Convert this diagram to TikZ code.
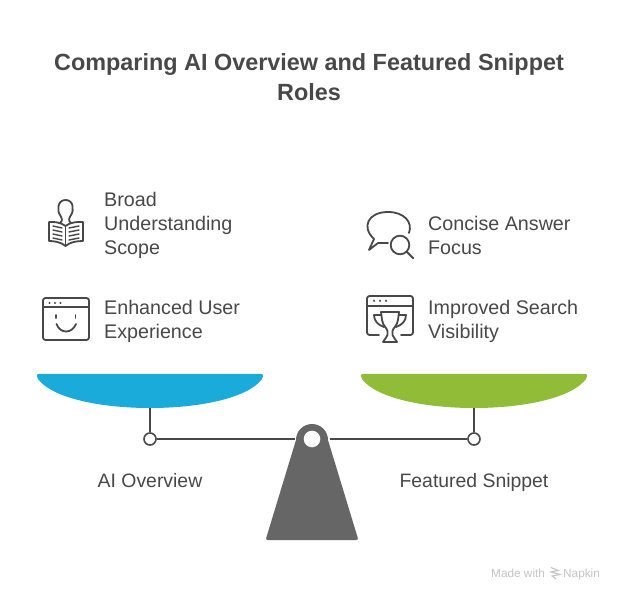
\documentclass[tikz,border=0pt]{standalone}
\usepackage{fontspec}
\setmainfont{Liberation Sans}
\definecolor{inkgrey}{HTML}{484848}
\definecolor{basegrey}{HTML}{666666}
\definecolor{panblue}{HTML}{1AABDA}
\definecolor{pangreen}{HTML}{90BC37}
\definecolor{markgrey}{HTML}{C4C4C4}
\tikzset{
  label/.style={anchor=base west,align=left,inner sep=0pt,text=inkgrey,font=\fontsize{19.7}{24}\selectfont},
  caption/.style={anchor=base,inner sep=0pt,text=inkgrey,font=\fontsize{19.4}{24}\selectfont},
  icon/.style={draw=inkgrey,line width=1.8pt,line cap=round,line join=round},
  beam/.style={draw=inkgrey,line width=2pt},
  hinge/.style={circle,draw=inkgrey,line width=1.6pt,fill=white,minimum size=12pt,inner sep=0pt},
  credit/.style={anchor=base west,inner sep=0pt,text=markgrey,font=\fontsize{11.8}{13}\selectfont}
}
\begin{document}
\begin{tikzpicture}[x=1pt,y=-1pt]
  \useasboundingbox[fill=white] (0,0) rectangle (624,601);
  \node[align=center,inner sep=0pt,text=inkgrey,font=\fontsize{23.4}{30}\selectfont\bfseries] (title) at (309,77) {Comparing AI Overview and Featured Snippet\\Roles};
  % pans
  \fill[panblue] (39,374) -- (261,374) .. controls (264,374) and (263.5,377) .. (262,379) .. controls (248,398) and (200,408) .. (150,408) .. controls (100,408) and (52,398) .. (38,379) .. controls (36.5,377) and (36,374) .. (39,374) -- cycle;
  \fill[pangreen] (363,374) -- (585,374) .. controls (588,374) and (587.5,377) .. (586,379) .. controls (572,398) and (524,408) .. (474,408) .. controls (424,408) and (376,398) .. (362,379) .. controls (360.5,377) and (360,374) .. (363,374) -- cycle;
  \coordinate (panL) at (150,408);
  \coordinate (panR) at (474,408);
  \coordinate (beamL) at (295,439);
  \coordinate (beamR) at (330,439);
  \node[hinge] (hingeL) at (150,439) {};
  \node[hinge] (hingeR) at (474,439) {};
  \draw[beam] (panL) -- (hingeL);
  \draw[beam] (panR) -- (hingeR);
  \draw[beam] (hingeL) -- (beamL);
  \draw[beam] (hingeR) -- (beamR);
  % base
  \fill[basegrey] (296,440) arc (180:360:16) -- (357.5,537) .. controls (358.5,539) and (358,540) .. (356,540) -- (268,540) .. controls (266,540) and (265.5,539) .. (266.5,537) -- cycle;
  \fill[white] (312,439) circle (8.3);
  % texts
  \node[label] (broad) at (104,255) {Broad\\Understanding\\Scope};
  \node[label] (enhanced) at (104,339) {Enhanced User\\Experience};
  \node[label] (concise) at (428,255) {Concise Answer\\Focus};
  \node[label] (improved) at (428,339) {Improved Search\\Visibility};
  \node[caption] (overview) at (150,487) {AI Overview};
  \node[caption] (featured) at (474,487) {Featured Snippet};
  % book
  \draw[icon] (60,223) .. controls (63,221) and (62,218) .. (60,215) .. controls (57,211) and (57,200) .. (65.7,200) .. controls (74,200) and (74,211) .. (71,215) .. controls (69,218) and (68,221) .. (71,223);
  \draw[icon] (65.5,226) .. controls (61,222.5) and (54,221.5) .. (49,222) -- (49,241) .. controls (54,241) and (61,242) .. (65.5,246) .. controls (70,242) and (77,241) .. (83,241) -- (83,222) .. controls (77,221.5) and (70,222.5) .. (65.5,226) -- cycle;
  \draw[icon,line width=1.4pt] (65.5,226) -- (65.5,246);
  \foreach \y in {226,230,234,238} {
    \draw[icon,line width=1.4pt] (53,\y) -- (62,\y+2);
    \draw[icon,line width=1.4pt] (79,\y) -- (69,\y+2);
  }
  % smiling window
  \draw[icon,rounded corners=2.5pt] (43,298) rectangle (89,340);
  \draw[icon] (43,307) -- (89,307);
  \foreach \x in {49.5,55,60.5} \fill[inkgrey] (\x,303) circle (1.2);
  \draw[icon] (56,315) -- (56,318);
  \draw[icon] (75.5,315) -- (75.5,318);
  \draw[icon] (56.5,324) .. controls (60,334) and (72,334) .. (76,324);
  % bubble and lens
  \draw[icon] (388,243) -- (378,243) -- (369,250) -- (374,239) .. controls (361,227) and (368,212) .. (388,212) .. controls (404,212) and (413,222) .. (409,233);
  \draw[icon] (400,245) circle (9.3);
  \draw[icon] (406.7,251.7) -- (413.3,258.3);
  % trophy window
  \draw[icon,rounded corners=2.5pt] (379,335) -- (367,335) -- (367,296) -- (413,296) -- (413,335) -- (401,335);
  \draw[icon] (367,306) -- (413,306);
  \foreach \x in {374,380,386} \fill[inkgrey] (\x,300.8) circle (1.2);
  \draw[icon] (381,312) -- (399,312) -- (398,320) .. controls (397,326) and (393,328) .. (392.5,331) -- (392.5,335) .. controls (393,338) and (396,339) .. (397,342) -- (383,342) .. controls (384,339) and (387,338) .. (387.5,335) -- (387.5,331) .. controls (387,328) and (383,326) .. (382,320) -- cycle;
  \draw[icon] (381,315) -- (374,315) .. controls (374,321) and (378,325) .. (384,327);
  \draw[icon] (399,315) -- (406,315) .. controls (406,321) and (402,325) .. (396,327);
  % watermark
  \node[credit] (made) at (491,577) {Made with};
  \node[credit] (napkin) at (563,577) {Napkin};
  \draw[draw=markgrey,line width=1.1pt] (551,567.5) -- (558,570.5) -- (551,572) -- (560,574.5) -- (552,576) -- (556,579);
\end{tikzpicture}
\end{document}
